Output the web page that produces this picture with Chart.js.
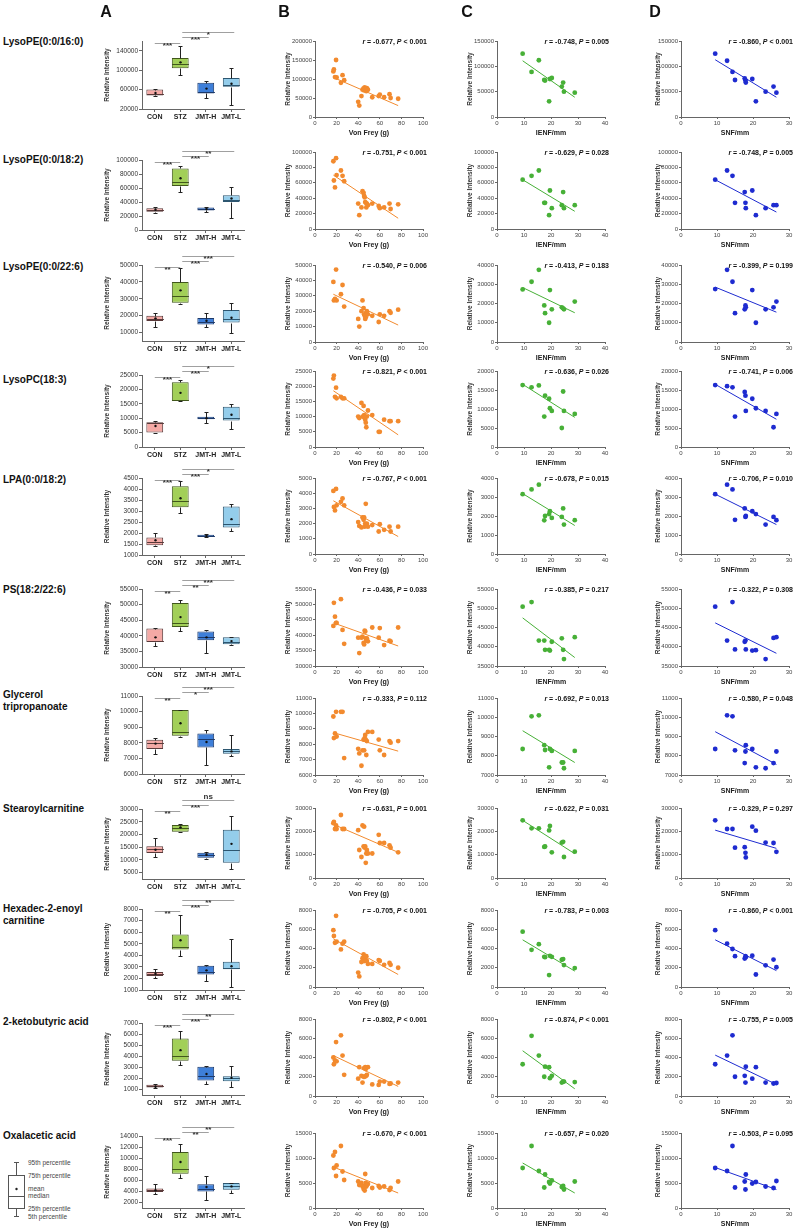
<!DOCTYPE html>
<html>
<head>
<meta charset="utf-8">
<script src="https://cdn.jsdelivr.net/npm/chart.js"></script>
<style>
  body { margin: 0; background: #fff; }
  #fig { position: relative; width: 800px; height: 1231px; font-family: 'Liberation Sans', Arial, sans-serif; color: #111; }
  #fig canvas { position: absolute; }
  .rowlbl { position: absolute; left: 3px; font-weight: bold; font-size: 10px; line-height: 12px; }
  .col { position: absolute; width: 40px; text-align: center; font-weight: bold; font-size: 16px; line-height: 18px; top: 3px; }
</style>
</head>
<body>
<div id="fig"></div>
<script>
// ---- data ----
const metabolites = ['LysoPE(0:0/16:0)', 'LysoPE(0:0/18:2)', 'LysoPE(0:0/22:6)', 'LysoPC(18:3)', 'LPA(0:0/18:2)',
  'PS(18:2/22:6)', 'Glycerol<br>tripropanoate', 'Stearoylcarnitine', 'Hexadec-2-enoyl<br>carnitine',
  '2-ketobutyric acid', 'Oxalacetic acid'];
const groups = ['CON', 'STZ', 'JMT-H', 'JMT-L'];

// box plots (5th, 25th, median, 75th, 95th percentile, mean) per metabolite x group
const boxLow = [
  [46000, 89000, 42000, 28000], [25000, 54000, 26000, 17000], [13000, 27000, 13500, 10000],
  [4900, 15800, 8500, 6300], [1400, 2900, 1800, 2100], [36800, 41500, 34400, 37100],
  [7300, 8350, 6600, 7150], [11200, 21000, 10500, 6300], [2000, 3900, 1750, 1300],
  [1100, 3250, 1450, 1200], [3600, 6400, 2500, 3700]];
const boxQ1 = [
  [48000, 104000, 52000, 66000], [26000, 63000, 28000, 40000], [16900, 27600, 14800, 15900],
  [5000, 16000, 9600, 9200], [1440, 3170, 1820, 2250], [38000, 42800, 38600, 37300],
  [7600, 8450, 7700, 7300], [12700, 21100, 10800, 8850], [2200, 4500, 2350, 2800],
  [1180, 3600, 1800, 1750], [3900, 7200, 4000, 4300]];
const boxMed = [
  [50000, 112000, 55000, 70000], [28000, 69000, 30000, 43000], [17800, 31600, 16500, 17800],
  [8200, 16300, 10000, 10200], [1580, 3440, 1870, 2430], [38300, 44000, 39500, 38000],
  [8000, 8700, 8250, 7450], [14400, 22500, 11900, 13700], [2350, 4700, 2550, 2870],
  [1300, 4000, 2200, 2000], [4200, 8000, 4400, 4900]];
const boxQ3 = [
  [60000, 125000, 74000, 84000], [31000, 88000, 32000, 49500], [20000, 40000, 18600, 23300],
  [8600, 22500, 10500, 14000], [1800, 4120, 1920, 3200], [42300, 50500, 41400, 39500],
  [8200, 10100, 8600, 7600], [15400, 23700, 12800, 21800], [2550, 5800, 3100, 3450],
  [1420, 5600, 3050, 2200], [4500, 11100, 5300, 5500]];
const boxHigh = [
  [62000, 150000, 78000, 104000], [33000, 92000, 33000, 62000], [21400, 48200, 21800, 27300],
  [9000, 23200, 12000, 14800], [2000, 4350, 1950, 3300], [42500, 51500, 41700, 39600],
  [8300, 10100, 8800, 8500], [18500, 24300, 13300, 27200], [2800, 7450, 3200, 5400],
  [1500, 6300, 3100, 3100], [5300, 12500, 6800, 5600]];
const boxMean = [
  [53000, 116000, 62000, 72000], [29000, 74000, 30000, 45000], [18400, 35000, 17000, 18800],
  [7300, 18800, 10000, 11200], [1670, 3580, 1870, 2630], [39500, 46000, 39500, 38300],
  [7950, 9250, 8050, 7450], [14000, 22800, 12000, 16300], [2400, 5300, 2700, 3050],
  [1250, 4550, 2400, 2050], [4200, 9300, 4800, 4900]];

// significance marks: CON vs STZ, STZ vs JMT-H, STZ vs JMT-L
const sigConStz = ['***', '***', '**', '***', '***', '**', '**', '**', '**', '***', '***'];
const sigStzH = ['***', '***', '***', '***', '***', '**', '*', '***', '***', '***', '**'];
const sigStzL = ['*', '**', '***', '*', '*', '***', '***', 'ns', '**', '**', '**'];

const aTicks = [
  [20000, 40000, 60000, 80000, 100000, 120000, 140000, 160000],
  [0, 20000, 40000, 60000, 80000, 100000],
  [10000, 20000, 30000, 40000, 50000],
  [0, 5000, 10000, 15000, 20000, 25000],
  [1000, 1500, 2000, 2500, 3000, 3500, 4000, 4500],
  [30000, 35000, 40000, 45000, 50000, 55000],
  [6000, 7000, 8000, 9000, 10000, 11000],
  [5000, 10000, 15000, 20000, 25000, 30000],
  [1000, 2000, 3000, 4000, 5000, 6000, 7000, 8000],
  [1000, 2000, 3000, 4000, 5000, 6000, 7000],
  [2000, 4000, 6000, 8000, 10000, 12000, 14000]];
const aAxisMin = [20000, 0, 5000, 0, 1000, 30000, 6000, 2500, 1000, 500, 1000];

// correlations
const vonFrey = [17, 17.5, 18.5, 19.5, 20, 24, 25.5, 27, 40, 41, 43, 44, 45, 45.5, 46, 46.5, 47, 47.5, 48, 49, 53, 59, 60, 64, 69, 70, 77];
const ienf = [9.5, 12.8, 15.5, 17.5, 17.8, 19.3, 19.6, 20.3, 24.0, 24.5, 24.8, 28.8];
const snf = [9.5, 12.8, 14.3, 15.0, 17.7, 17.9, 18.0, 19.8, 20.8, 23.5, 25.7, 26.5];

const bY = [
  [120000, 125000, 105000, 150000, 104000, 90000, 110000, 97000, 40000, 30000, 55000, 72000, 75000, 70000, 78000, 73000, 74000, 68000, 76000, 72000, 52000, 55000, 59000, 52000, 60000, 50000, 48000],
  [88000, 63000, 54000, 92000, 70000, 76000, 69000, 62000, 33000, 18000, 28000, 49000, 47000, 43000, 41000, 35000, 34000, 28000, 33000, 31000, 33000, 30000, 27000, 28000, 33000, 26000, 32000],
  [39000, 27000, 28000, 47000, 27000, 31000, 37000, 23000, 15000, 10000, 20000, 27000, 22000, 18000, 17000, 15000, 16000, 19000, 20000, 18000, 17000, 13000, 18000, 17000, 20000, 19000, 21000],
  [22500, 23500, 16500, 19500, 16000, 16500, 16000, 16000, 10000, 9500, 14500, 10000, 13500, 10500, 9500, 9000, 8000, 6500, 10000, 12000, 10500, 5000, 5000, 9000, 8500, 8500, 8500],
  [4150, 3100, 2870, 4280, 3200, 3430, 3650, 3200, 2100, 1850, 1750, 2400, 2250, 2400, 1800, 2000, 3300, 1950, 2000, 1800, 1900, 1480, 1960, 1590, 1800, 1480, 1800],
  [43000, 50500, 46000, 44000, 44000, 51700, 41700, 37200, 39200, 34200, 39200, 39500, 37500, 37000, 41500, 41200, 39000, 38200, 39000, 38000, 42500, 39200, 42300, 36800, 38200, 38000, 42500],
  [9800, 8400, 8700, 10100, 8500, 10100, 10100, 7100, 7700, 7400, 6600, 7600, 8300, 7600, 8400, 8600, 8300, 7300, 8200, 8800, 8800, 8300, 7600, 7300, 8200, 8100, 8200],
  [23500, 24000, 21000, 22500, 21000, 27000, 21000, 21000, 20500, 12000, 9000, 22500, 13500, 22000, 13000, 13500, 6500, 10500, 12000, 10500, 10500, 18500, 15000, 15000, 14000, 13000, 11000],
  [5900, 5300, 4600, 7400, 4700, 3900, 4500, 4700, 1500, 1100, 2600, 3000, 3400, 2700, 3100, 2900, 2800, 3200, 2700, 2400, 2400, 2800, 2700, 2300, 2500, 2300, 2000],
  [4000, 3300, 3700, 5600, 3600, 6300, 4200, 2200, 1800, 3000, 2100, 1400, 2000, 2900, 2000, 3000, 2800, 2100, 2200, 3000, 1200, 1150, 1500, 1500, 1250, 1300, 1400],
  [10500, 8000, 11200, 6400, 8500, 12400, 7300, 5600, 5300, 4600, 5000, 4300, 3800, 4400, 3500, 6800, 5000, 4300, 4600, 4800, 4000, 4400, 4100, 4300, 3600, 4000, 5300]];
const cY = [
  [125000, 89000, 112000, 73000, 72000, 31000, 75000, 77000, 60000, 68000, 50000, 48000],
  [64000, 69000, 76000, 34000, 34000, 18000, 50000, 27000, 31000, 48000, 27000, 31000],
  [27300, 31300, 37500, 19000, 15000, 10000, 27000, 17000, 18000, 17500, 17000, 21000],
  [16300, 15700, 16200, 8000, 13500, 12700, 10200, 9500, 5000, 14600, 9500, 8700],
  [3150, 3400, 3650, 1770, 2000, 2100, 2250, 1900, 1950, 2400, 1550, 1780],
  [50400, 51600, 41600, 41600, 39200, 39200, 39000, 41300, 42200, 39200, 36800, 42500],
  [8350, 10050, 10100, 8550, 8300, 7400, 8350, 8250, 7650, 7650, 7350, 8250],
  [24700, 21300, 21300, 13300, 13500, 20400, 22300, 11000, 15200, 15500, 9000, 11300],
  [5750, 3860, 4450, 3140, 3100, 1240, 3240, 3140, 2830, 2900, 2280, 1970],
  [3300, 6250, 4200, 2000, 3050, 3000, 1850, 2100, 1400, 1500, 1500, 1450],
  [8000, 12400, 7400, 4100, 6700, 5200, 4900, 5500, 4200, 4400, 3700, 5300]];
const dY = [
  [125000, 111000, 89000, 73000, 76000, 72000, 68000, 75000, 31000, 50000, 60000, 48000],
  [64000, 76000, 69000, 34000, 48000, 34000, 27000, 50000, 18000, 27000, 31000, 31000],
  [27500, 37500, 31300, 15000, 17000, 19000, 18000, 27000, 10000, 17000, 18000, 21000],
  [16300, 16000, 15700, 8000, 14500, 13500, 9500, 12700, 10200, 9500, 5200, 8700],
  [3150, 3650, 3400, 1800, 2400, 1950, 2000, 2250, 2100, 1550, 1950, 1780],
  [50400, 41600, 51600, 39300, 41300, 41600, 39300, 39000, 39100, 36800, 42300, 42500],
  [8350, 10100, 10050, 8280, 7620, 8220, 8550, 8350, 7400, 7350, 7620, 8220],
  [24700, 21000, 21000, 13000, 13200, 10800, 8800, 22000, 20300, 15200, 15000, 11200],
  [5900, 4500, 3950, 3200, 2950, 3200, 3100, 3250, 1300, 2250, 2850, 2050],
  [3300, 4200, 6300, 2000, 2100, 1400, 3050, 1800, 3000, 1400, 1300, 1350],
  [8000, 7400, 12400, 4100, 5300, 3700, 6700, 4900, 5200, 4300, 4000, 5400]];

// fitted line: value at smallest x, value at largest x
const bFit = [[104000, 30000], [70000, 14000], [31000, 11000], [18500, 4000], [3500, 1150], [44000, 36500],
  [8750, 7550], [23000, 11000], [5000, 1300], [4200, 1000], [8200, 3000]];
const cFit = [[111000, 39000], [64000, 23000], [28300, 15200], [16500, 7800], [3180, 1500], [47500, 37200],
  [9300, 7650], [24700, 10400], [4900, 1650], [4700, 750], [9000, 3000]];
const dFit = [[113000, 39000], [64000, 22000], [28500, 15500], [16500, 7300], [3150, 1550], [46200, 38300],
  [9250, 7550], [20500, 12700], [4900, 1700], [4250, 1200], [8100, 3700]];

const bStats = ['r = -0.677, P < 0.001', 'r = -0.751, P < 0.001', 'r = -0.540, P = 0.006', 'r = -0.821, P < 0.001',
  'r = -0.767, P < 0.001', 'r = -0.436, P = 0.033', 'r = -0.333, P = 0.112', 'r = -0.631, P = 0.001',
  'r = -0.705, P < 0.001', 'r = -0.802, P < 0.001', 'r = -0.670, P < 0.001'];
const cStats = ['r = -0.748, P = 0.005', 'r = -0.629, P = 0.028', 'r = -0.413, P = 0.183', 'r = -0.636, P = 0.026',
  'r = -0.678, P = 0.015', 'r = -0.385, P = 0.217', 'r = -0.692, P = 0.013', 'r = -0.622, P = 0.031',
  'r = -0.783, P = 0.003', 'r = -0.874, P < 0.001', 'r = -0.657, P = 0.020'];
const dStats = ['r = -0.860, P < 0.001', 'r = -0.748, P = 0.005', 'r = -0.399, P = 0.199', 'r = -0.741, P = 0.006',
  'r = -0.706, P = 0.010', 'r = -0.322, P = 0.308', 'r = -0.580, P = 0.048', 'r = -0.329, P = 0.297',
  'r = -0.860, P < 0.001', 'r = -0.755, P = 0.005', 'r = -0.503, P = 0.095'];

const bTicks = [
  [0, 50000, 100000, 150000, 200000], [0, 20000, 40000, 60000, 80000, 100000],
  [0, 10000, 20000, 30000, 40000, 50000], [0, 5000, 10000, 15000, 20000, 25000],
  [0, 1000, 2000, 3000, 4000, 5000], [30000, 35000, 40000, 45000, 50000, 55000],
  [6000, 7000, 8000, 9000, 10000, 11000], [0, 10000, 20000, 30000],
  [0, 2000, 4000, 6000, 8000], [0, 2000, 4000, 6000, 8000], [0, 5000, 10000, 15000]];
const cdTicks = [
  [0, 50000, 100000, 150000], [0, 20000, 40000, 60000, 80000, 100000],
  [0, 10000, 20000, 30000, 40000], [0, 5000, 10000, 15000, 20000],
  [0, 1000, 2000, 3000, 4000], [35000, 40000, 45000, 50000, 55000],
  [7000, 8000, 9000, 10000, 11000], [0, 10000, 20000, 30000],
  [0, 2000, 4000, 6000, 8000], [0, 2000, 4000, 6000, 8000], [0, 5000, 10000, 15000]];
const vonFreyTicks = [0, 20, 40, 60, 80, 100];
const ienfTicks = [0, 10, 20, 30, 40];
const snfTicks = [0, 10, 20, 30];

// ---- layout ----
const aTop = [41, 160, 265, 375, 478, 589, 696, 809, 909, 1023, 1136];
const aBottom = [109, 230, 341, 447, 555, 667, 774, 879, 990, 1095, 1208];
const sTop = [41, 152, 265, 371, 478, 589, 698, 808, 910, 1019, 1133];
const sBottom = [117, 229, 342, 447, 554, 666, 775, 878, 987, 1096, 1208];
const labelTop = [36, 154, 261, 374, 474, 584, 689, 803, 903, 1016, 1130];

const boxFill = ['#F4A9A5', '#A2CF58', '#3E7FD9', '#94CDEB'];
const boxLine = ['#5a3a3a', '#41571c', '#1d3a6b', '#2d5670'];
const FONT = "'Liberation Sans', Arial, sans-serif";

Chart.defaults.font.family = FONT;
Chart.defaults.color = '#333';

const fig = document.getElementById('fig');

function addCanvas(left, top, w, h) {
  const c = document.createElement('canvas');
  c.width = w; c.height = h;
  c.style.left = left + 'px'; c.style.top = top + 'px';
  c.style.width = w + 'px'; c.style.height = h + 'px';
  fig.appendChild(c);
  return c;
}

const axisGrid = { drawOnChartArea: false, tickLength: 3, color: '#666', lineWidth: 1 };
const axisBorder = { color: '#666', width: 1 };

// whiskers, median and mean on top of the floating bars
function whiskerPlugin(r) {
  return {
    id: 'whiskers',
    afterDatasetsDraw(chart) {
      const ctx = chart.ctx, ys = chart.scales.y;
      const px = v => Math.round(ys.getPixelForValue(v)) + 0.5;
      ctx.save();
      ctx.lineWidth = 1;
      chart.getDatasetMeta(0).data.forEach((bar, i) => {
        const x = Math.round(bar.x) + 0.5, hw = bar.width / 2;
        ctx.strokeStyle = '#222';
        ctx.beginPath();
        ctx.moveTo(x, px(boxQ3[r][i])); ctx.lineTo(x, px(boxHigh[r][i]));
        ctx.moveTo(x, px(boxQ1[r][i])); ctx.lineTo(x, px(boxLow[r][i]));
        ctx.moveTo(x - 2, px(boxHigh[r][i])); ctx.lineTo(x + 2, px(boxHigh[r][i]));
        ctx.moveTo(x - 2, px(boxLow[r][i])); ctx.lineTo(x + 2, px(boxLow[r][i]));
        ctx.stroke();
        ctx.strokeStyle = boxLine[i];
        ctx.beginPath();
        ctx.moveTo(x - hw, px(boxMed[r][i])); ctx.lineTo(x + hw, px(boxMed[r][i]));
        ctx.stroke();
        ctx.fillStyle = '#111';
        ctx.beginPath();
        ctx.arc(x, ys.getPixelForValue(boxMean[r][i]), 1.2, 0, Math.PI * 2);
        ctx.fill();
      });
      ctx.restore();
    }
  };
}

function bracketPlugin(r) {
  return {
    id: 'brackets',
    afterDraw(chart) {
      const ctx = chart.ctx, xs = chart.scales.x, top = chart.chartArea.top;
      const specs = [[0, 1, sigConStz[r], 2], [1, 2, sigStzH[r], -4], [1, 3, sigStzL[r], -9]];
      ctx.save();
      specs.forEach(([a, b, mark, off], k) => {
        const x0 = xs.getPixelForValue(a) + (k ? 2 : 0);
        const x1 = xs.getPixelForValue(b) + (k ? 3 : 0);
        const y = Math.round(top + off) + 0.5;
        ctx.strokeStyle = '#a0a0a0'; ctx.lineWidth = 1;
        ctx.beginPath(); ctx.moveTo(x0, y); ctx.lineTo(x1, y); ctx.stroke();
        ctx.fillStyle = '#333';
        ctx.textAlign = 'center';
        ctx.textBaseline = 'alphabetic';
        ctx.font = 'bold 8px ' + FONT;
        ctx.fillText(mark, (x0 + x1) / 2, mark === 'ns' ? y - 1.5 : y + 4);
      });
      ctx.restore();
    }
  };
}

function statsPlugin(text) {
  return {
    id: 'stats',
    afterDraw(chart) {
      const ctx = chart.ctx, { top, right } = chart.chartArea;
      const parts = text.split(/\b([rP])\b/).filter(s => s.length);
      ctx.save();
      ctx.fillStyle = '#111';
      ctx.textBaseline = 'middle';
      ctx.textAlign = 'left';
      let x = right + 4;
      for (let i = parts.length - 1; i >= 0; i--) {
        const it = parts[i] === 'r' || parts[i] === 'P';
        ctx.font = (it ? 'italic ' : '') + 'bold 7px ' + FONT;
        x -= ctx.measureText(parts[i]).width;
        ctx.fillText(parts[i], x, top + 1);
      }
      ctx.restore();
    }
  };
}

// ---- column A: box plots ----
const A_LEFT = 98, A_AXIS = 142, A_RIGHT = 244, A_PADTOP = 24, A_XH = 14;
metabolites.forEach((name, r) => {
  const h = A_PADTOP + (aBottom[r] - aTop[r]) + A_XH;
  const c = addCanvas(A_LEFT, aTop[r] - A_PADTOP, A_RIGHT - A_LEFT + 8, h);
  new Chart(c, {
    type: 'bar',
    data: {
      labels: groups,
      datasets: [{
        data: groups.map((g, i) => [boxQ1[r][i], boxQ3[r][i]]),
        backgroundColor: boxFill,
        borderColor: boxLine,
        borderWidth: 1,
        borderSkipped: false,
        barPercentage: 0.66,
        categoryPercentage: 1
      }]
    },
    options: {
      responsive: false,
      animation: false,
      layout: { padding: { top: A_PADTOP, right: 8, left: 0, bottom: 0 } },
      plugins: { legend: { display: false }, tooltip: { enabled: false } },
      scales: {
        x: {
          grid: Object.assign({ offset: false }, axisGrid),
          border: axisBorder,
          ticks: { font: { size: 7, weight: 'bold' }, color: '#222', padding: 1, maxRotation: 0, minRotation: 0, autoSkip: false },
          afterFit: s => { s.height = A_XH; }
        },
        y: {
          min: aAxisMin[r],
          max: aTicks[r][aTicks[r].length - 1],
          afterBuildTicks: s => { s.ticks = aTicks[r].map(v => ({ value: v })); },
          grid: axisGrid,
          border: axisBorder,
          ticks: { font: { size: 6.5 }, color: '#333', padding: 1, callback: v => String(v) },
          title: { display: true, text: 'Relative Intensity', font: { size: 6.5, weight: 'bold' }, color: '#333', padding: { top: 5, bottom: 0 } },
          afterFit: s => { s.width = A_AXIS - A_LEFT; }
        }
      }
    },
    plugins: [whiskerPlugin(r), bracketPlugin(r)]
  });
});

// ---- columns B, C, D: correlations ----
const scatterCols = [
  { left: 280, axis: 315, right: 423, xs: vonFrey, ys: bY, fit: bFit, stats: bStats, yt: bTicks, xt: vonFreyTicks, title: 'Von Frey (g)', color: '#F28A2E' },
  { left: 462, axis: 497, right: 605, xs: ienf, ys: cY, fit: cFit, stats: cStats, yt: cdTicks, xt: ienfTicks, title: 'IENF/mm', color: '#47B037' },
  { left: 650, axis: 681, right: 789, xs: snf, ys: dY, fit: dFit, stats: dStats, yt: cdTicks, xt: snfTicks, title: 'SNF/mm', color: '#1E2BD0' }
];
const S_PADTOP = 8, S_XH = 22, S_PADRIGHT = 8;

scatterCols.forEach(col => {
  metabolites.forEach((name, r) => {
    const h = S_PADTOP + (sBottom[r] - sTop[r]) + S_XH;
    const c = addCanvas(col.left, sTop[r] - S_PADTOP, col.right - col.left + S_PADRIGHT, h);
    const yt = col.yt[r];
    const xMin = Math.min(...col.xs), xMax = Math.max(...col.xs);
    new Chart(c, {
      type: 'scatter',
      data: {
        datasets: [
          {
            data: col.xs.map((x, i) => ({ x: x, y: col.ys[r][i] })),
            backgroundColor: col.color,
            borderColor: col.color,
            pointRadius: 2.4,
            pointBorderWidth: 0
          },
          {
            data: [{ x: xMin, y: col.fit[r][0] }, { x: xMax, y: col.fit[r][1] }],
            showLine: true,
            borderColor: col.color,
            borderWidth: 1,
            pointRadius: 0
          }
        ]
      },
      options: {
        responsive: false,
        animation: false,
        layout: { padding: { top: S_PADTOP, right: S_PADRIGHT, left: 0, bottom: 0 } },
        plugins: { legend: { display: false }, tooltip: { enabled: false } },
        scales: {
          x: {
            type: 'linear',
            min: col.xt[0],
            max: col.xt[col.xt.length - 1],
            afterBuildTicks: s => { s.ticks = col.xt.map(v => ({ value: v })); },
            grid: Object.assign({}, axisGrid, { tickLength: 2 }),
            border: axisBorder,
            ticks: { font: { size: 6 }, color: '#444', padding: 1, maxRotation: 0 },
            title: { display: true, text: col.title, font: { size: 7, weight: 'bold' }, color: '#222', padding: { top: 0, bottom: 2 } },
            afterFit: s => { s.height = S_XH; }
          },
          y: {
            min: yt[0],
            max: yt[yt.length - 1],
            afterBuildTicks: s => { s.ticks = yt.map(v => ({ value: v })); },
            grid: Object.assign({}, axisGrid, { tickLength: 2 }),
            border: axisBorder,
            ticks: { font: { size: 6 }, color: '#444', padding: 1, callback: v => String(v) },
            title: { display: true, text: 'Relative Intensity', font: { size: 6.5, weight: 'bold' }, color: '#333', padding: { top: 4, bottom: 0 } },
            afterFit: s => { s.width = col.axis - col.left; }
          }
        }
      },
      plugins: [statsPlugin(col.stats[r])]
    });
  });
});

// ---- text: panel letters, row names ----
[['A', 106], ['B', 284], ['C', 467], ['D', 655]].forEach(([t, cx]) => {
  const d = document.createElement('div');
  d.className = 'col'; d.textContent = t; d.style.left = (cx - 20) + 'px';
  fig.appendChild(d);
});
metabolites.forEach((name, r) => {
  const d = document.createElement('div');
  d.className = 'rowlbl'; d.innerHTML = name; d.style.top = labelTop[r] + 'px';
  fig.appendChild(d);
});

// box plot key (bottom left)
fig.insertAdjacentHTML('beforeend', `
<svg style="position:absolute;left:0;top:1155px" width="95" height="70" font-family="${FONT.replace(/'/g, '')}" font-size="6.5" fill="#444">
  <g stroke="#555" stroke-width="1" fill="none">
    <line x1="16.5" y1="7.5" x2="16.5" y2="20.5"/>
    <line x1="14" y1="7.5" x2="19" y2="7.5"/>
    <rect x="8.5" y="20.5" width="16" height="33"/>
    <line x1="8.5" y1="41.5" x2="24.5" y2="41.5"/>
    <line x1="16.5" y1="53.5" x2="16.5" y2="61.5"/>
    <line x1="14" y1="61.5" x2="19" y2="61.5"/>
  </g>
  <circle cx="16.5" cy="34" r="1.2" fill="#222"/>
  <text x="28" y="9.5">95th percentile</text>
  <text x="28" y="22.5">75th percentile</text>
  <text x="28" y="36">mean</text>
  <text x="28" y="43">median</text>
  <text x="28" y="55.5">25th percentile</text>
  <text x="28" y="63.5">5th percentile</text>
</svg>`);
</script>
</body>
</html>
